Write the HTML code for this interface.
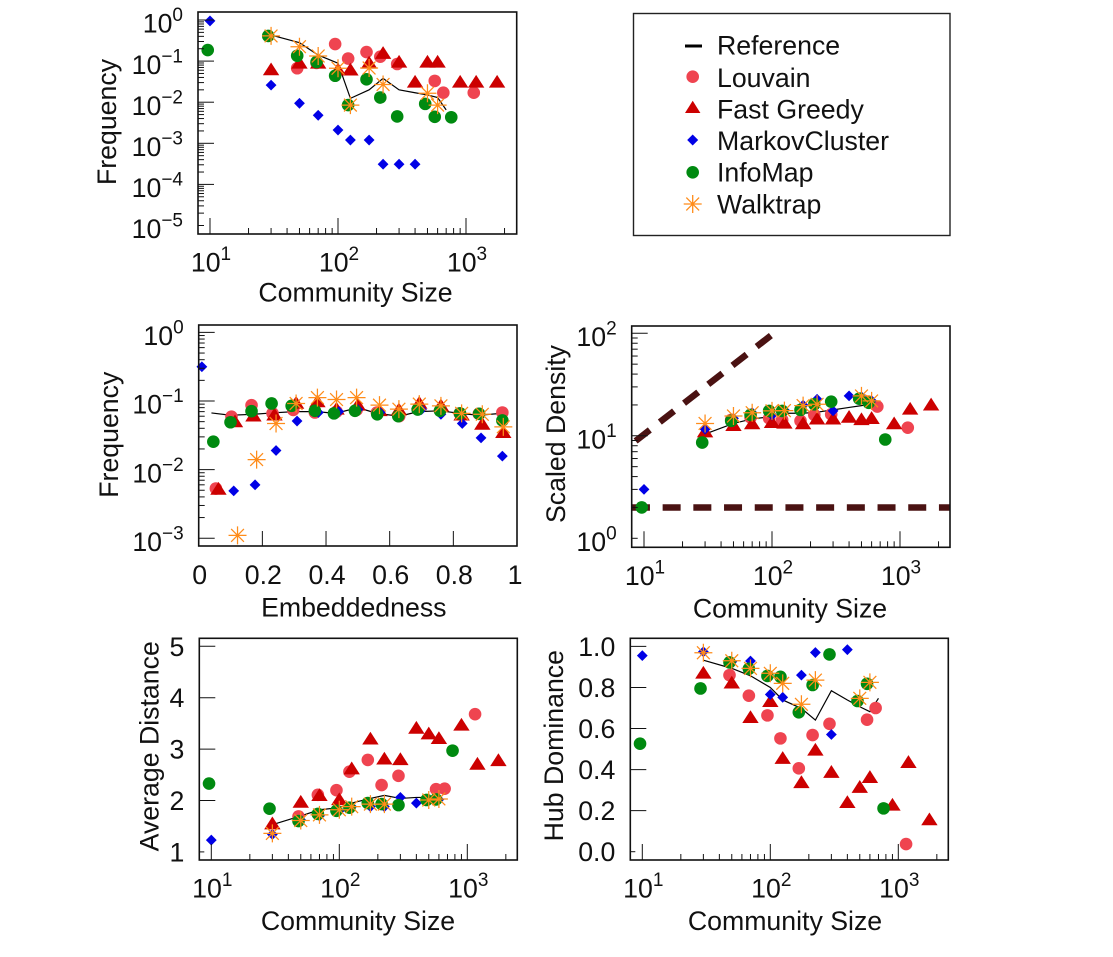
<!DOCTYPE html>
<html lang="en">
<head>
<meta charset="utf-8">
<title>Community metrics comparison</title>
<style>
html,body{margin:0;padding:0;background:#fff}
svg{display:block}
text{font-family:"Liberation Sans",Arial,sans-serif;fill:#111}
</style>
</head>
<body>
<svg id="fig" xmlns="http://www.w3.org/2000/svg" width="1113" height="957" viewBox="0 0 1113 957">
  <g>
    <rect x="633.5" y="13.5" width="316.5" height="222" fill="#fff" stroke="#222" stroke-width="1.4"/>
    <g>
      <line x1="685" x2="702" y1="46" y2="46" stroke="#000" stroke-width="3"/>
      <text x="717" y="54.5" font-size="26.7">Reference</text>
    </g>
    <g>
      <circle cx="692.7" cy="76.7" r="6.3" fill="#ef4450"/>
      <text x="717" y="87" font-size="26.7">Louvain</text>
    </g>
    <g>
      <path d="M692.7 100.8 L700.4 113 L685 113 Z" fill="#cc0000"/>
      <text x="717" y="118.5" font-size="26.7">Fast Greedy</text>
    </g>
    <g>
      <path d="M692.7 134.5 L698.2 140 L692.7 145.5 L687.2 140 Z" fill="#0000e6"/>
      <text x="717" y="150" font-size="26.7">MarkovCluster</text>
    </g>
    <g>
      <circle cx="692.7" cy="172.3" r="6.3" fill="#008a10"/>
      <text x="717" y="181.7" font-size="26.7">InfoMap</text>
    </g>
    <g>
      <path d="M683.7 204H701.7M692.7 195V213M686.3 197.6L699.1 210.4M686.3 210.4L699.1 197.6" stroke="#ff8c1a" stroke-width="1.3" fill="none"/>
      <text x="717" y="213.3" font-size="26.7">Walktrap</text>
    </g>
  </g>
</svg>
<script>
// Community-size categories per algorithm
const louvainSizes = [28,48,68,95,120,167,214,290,480,570,665,1150];
const fastGreedySizes = [30,50,70,100,125,175,225,300,400,500,600,900,1200,1750];
const markovSizes = [10,30,50,70,100,125,175,225,300,400,500,600];
const infomapSizes = [9.6,28.5,48,68,95,120,167,214,290,480,570,767];
const walktrapSizes = [30,50,70,100,125,175,225,500,600];
const referenceSizes = [30,50,70,100,125,175,225,300,400,500,600,700];

// Size distribution
const freqLouvain = [null,0.067,0.09,0.26,0.115,0.166,0.128,0.085,null,0.033,0.017,0.017];
const freqFastGreedy = [0.064,0.093,0.093,0.063,0.063,0.093,0.16,0.098,0.032,0.098,0.098,0.032,0.032,0.032];
const freqMarkov = [0.95,0.026,0.0094,0.0048,0.0021,0.0012,0.0012,0.00031,0.00031,0.00031,null,null];
const freqInfomap = [0.186,0.41,0.135,0.095,0.044,0.0085,0.036,0.013,0.0045,0.0091,0.0044,0.0043];
const freqWalktrap = [0.41,0.224,0.133,0.067,0.0085,0.068,0.027,0.0165,0.0085];
const freqReference = [0.43,0.28,0.14,0.089,0.0124,0.02,0.038,0.02,0.017,0.015,0.013,0.0065];

// Embeddedness distribution
const embedLouvainX = [0.054,0.103,0.166,0.232,0.297,0.365,0.433,0.496,0.56,0.63,0.69,0.76,0.82,0.88,0.954];
const embedLouvainY = [0.0053,0.059,0.087,0.066,0.074,0.068,0.07,0.074,0.068,0.06,0.078,0.075,0.066,0.065,0.068];
const embedFastGreedyX = [0.062,0.114,0.172,0.238,0.306,0.373,0.433,0.5,0.568,0.629,0.693,0.761,0.826,0.891,0.957];
const embedFastGreedyY = [0.0053,0.051,0.062,0.064,0.095,0.1,0.078,0.089,0.074,0.076,0.095,0.087,0.064,0.047,0.0355];
const embedMarkovX = [0.01,0.11,0.177,0.243,0.309,0.376,0.44,0.5,0.57,0.63,0.7,0.761,0.828,0.887,0.954];
const embedMarkovY = [0.316,0.0049,0.006,0.019,0.051,0.068,0.07,0.075,0.068,0.06,0.075,0.064,0.047,0.029,0.0157];
const embedInfomapX = [0.046,0.1,0.166,0.229,0.292,0.365,0.425,0.491,0.561,0.627,0.688,0.758,0.821,0.881,0.954];
const embedInfomapY = [0.0255,0.049,0.071,0.092,0.085,0.072,0.066,0.072,0.064,0.06,0.075,0.072,0.066,0.065,0.052];
const embedWalktrapX = [0.122,0.182,0.243,0.306,0.373,0.433,0.496,0.568,0.629,0.693,0.761,0.826,0.891,0.957];
const embedWalktrapY = [0.0011,0.014,0.047,0.092,0.112,0.105,0.112,0.087,0.076,0.09,0.085,0.066,0.064,0.042];
const embedReferenceX = [0.04,0.1,0.17,0.23,0.3,0.37,0.43,0.5,0.56,0.63,0.69,0.76,0.82,0.88,0.95];
const embedReferenceY = [0.067,0.062,0.064,0.067,0.07,0.07,0.066,0.08,0.066,0.06,0.07,0.072,0.066,0.062,0.066];

// Scaled density
const densLouvain = [null,14.3,15.1,14.8,14.3,14,16,16.2,null,null,19.3,12];
const densFastGreedy = [11.1,12.8,13.3,13.7,13.5,13.3,14.8,14.8,15.4,14.6,15,13.3,18.5,20.3];
const densMarkov = [3.0,11.6,14.8,16.8,15.9,17.8,19.9,22.7,17.5,24.5,24,22];
const densInfomap = [2.0,8.6,14,16,17.5,17.5,17.9,20.3,21.5,23,21,9.2];
const densWalktrap = [13.2,15.6,16.8,17.5,17.6,19.7,20.3,24.5,21.9];
const densReference = [10.4,13.2,14.6,15.4,16.6,16.6,17,17.9,18.9,19.7,20.6,null];
const boundUpperX = [8.6,100];
const boundUpperY = [8.9,97];
const boundLowerX = [8.05,2450];
const boundLowerY = [2,2];

// Average distance
const distLouvain = [null,1.69,2.11,2.2,2.56,2.79,2.3,2.48,null,2.22,2.23,3.68];
const distFastGreedy = [1.56,1.98,2.11,2.03,2.63,3.21,2.82,2.81,3.42,3.31,3.22,3.48,2.72,2.79];
const distMarkov = [1.23,1.34,1.62,1.7,1.8,1.88,1.88,1.88,2.06,1.95,2.0,2.02];
const distInfomap = [2.33,1.84,1.6,1.74,1.8,1.86,1.95,1.93,1.91,2.01,2.02,2.97];
const distWalktrap = [1.36,1.61,1.72,1.82,1.88,1.93,1.93,2.01,2.03];
const distReference = [1.53,1.7,1.82,1.86,1.95,2.04,2.1,2.04,2.06,2.06,2.1,null];

// Hub dominance
const hubLouvain = [null,0.86,0.76,0.664,0.552,0.406,0.568,0.623,null,0.643,0.7,0.037];
const hubFastGreedy = [0.873,0.825,0.657,0.735,0.458,0.34,0.498,0.39,0.243,0.317,0.365,0.23,0.438,0.159];
const hubMarkov = [0.955,0.974,0.925,0.929,0.766,0.752,0.86,0.97,0.571,0.984,null,null];
const hubInfomap = [0.526,0.795,0.922,0.891,0.856,0.852,0.679,0.812,0.961,0.734,0.818,0.211];
const hubWalktrap = [0.969,0.93,0.893,0.869,0.82,0.718,0.836,0.747,0.825];
const hubReference = [0.933,0.893,0.857,0.8,0.739,0.698,0.641,0.784,0.739,0.706,0.682,0.747];

// Tick labels
const sizeTickValues = [10,100,1000];
const sizeTickExponents = ["1","2","3"];
const freqTickValues = [1,0.1,0.01,0.001,0.0001,0.00001];
const freqTickExponents = ["0","\u22121","\u22122","\u22123","\u22124","\u22125"];
const embedFreqTickValues = [1,0.1,0.01,0.001];
const embedFreqTickExponents = ["0","\u22121","\u22122","\u22123"];
const embedTickValues = [0,0.2,0.4,0.6,0.8,1];
const embedTickLabels = ["0","0.2","0.4","0.6","0.8","1"];
const densTickValues = [100,10,1];
const densTickExponents = ["2","1","0"];
const distTickValues = [5,4,3,2,1];
const distTickLabels = ["5","4","3","2","1"];
const hubTickValues = [1,0.8,0.6,0.4,0.2,0];
const hubTickLabels = ["1.0","0.8","0.6","0.4","0.2","0.0"];

const svg = document.getElementById('fig');
const NS = 'http://www.w3.org/2000/svg';
const COL = {louvain:'#ef4450', fast:'#cc0000', markov:'#0000e6', info:'#008a10', walk:'#ff8c1a', dash:'#4a1212'};

function make(parent, tag, name, attrs) {
  const el = document.createElementNS(NS, tag);
  
  
  for (const k in attrs) el.setAttribute(k, attrs[k]);
  parent.appendChild(el);
  return el;
}
function logX(pxAtRef, refValue, pxPerDecade) {
  return v => pxAtRef + (Math.log10(v) - Math.log10(refValue)) * pxPerDecade;
}
function logY(pxAtRef, refValue, pxPerDecade) {
  return v => pxAtRef - (Math.log10(v) - Math.log10(refValue)) * pxPerDecade;
}
function linScale(pxAt0, pxPerUnit) {
  return v => pxAt0 + v * pxPerUnit;
}
function marker(g, type, name, x, y) {
  if (type === 'circle-louvain') make(g, 'circle', name, {cx:x, cy:y, r:6.3, fill:COL.louvain});
  if (type === 'circle-info') make(g, 'circle', name, {cx:x, cy:y, r:6.3, fill:COL.info});
  if (type === 'triangle') make(g, 'path', name, {d:`M${x} ${y-6.6}L${x+8.2} ${y+6.2}L${x-8.2} ${y+6.2}Z`, fill:COL.fast});
  if (type === 'diamond') make(g, 'path', name, {d:`M${x} ${y-5.4}L${x+5.4} ${y}L${x} ${y+5.4}L${x-5.4} ${y}Z`, fill:COL.markov});
  if (type === 'star') {
    const r = 9, d = 6.4;
    make(g, 'path', name, {d:`M${x-r} ${y}H${x+r}M${x} ${y-r}V${y+r}M${x-d} ${y-d}L${x+d} ${y+d}M${x-d} ${y+d}L${x+d} ${y-d}`, stroke:COL.walk, 'stroke-width':1.25, fill:'none'});
  }
}
function scatter(g, type, series, xs, ys, sx, sy) {
  xs.forEach((xv, i) => {
    if (ys[i] === null || ys[i] === undefined) return;
    marker(g, type, series + '-point', sx(xv), sy(ys[i]));
  });
}
function polyline(g, name, xs, ys, sx, sy, attrs) {
  const pts = [];
  xs.forEach((xv, i) => { if (ys[i] !== null && ys[i] !== undefined) pts.push(sx(xv).toFixed(2) + ',' + sy(ys[i]).toFixed(2)); });
  make(g, 'polyline', name, Object.assign({points:pts.join(' '), fill:'none'}, attrs));
}
function powerLabel(g, name, x, y, anchor, exp) {
  const t = make(g, 'text', name, {x:x, y:y, 'text-anchor':anchor, 'font-size':26.7});
  t.appendChild(document.createTextNode('10'));
  const s = document.createElementNS(NS, 'tspan');
  s.setAttribute('dy', '-11.5');
  s.setAttribute('font-size', '19');
  s.textContent = exp;
  t.appendChild(s);
}
function tickLine(g, name, x1, y1, x2, y2) {
  make(g, 'line', name, {x1:x1, y1:y1, x2:x2, y2:y2, stroke:'#111', 'stroke-width':1});
}
function drawXLogAxis(g, f, sx) {
  for (let d = 10; d <= 1000; d *= 10) for (let m = 1; m < 10; m++) {
    const v = d * m, px = sx(v);
    if (px >= f.r) continue;
    const major = m === 1;
    tickLine(g, major ? 'x-major-tick' : 'x-minor-tick', px, f.b, px, f.b - (major ? 16 : 6));
  }
  sizeTickValues.forEach((v, i) => powerLabel(g, 'x-tick-label', sx(v) + 1, f.b + 37.5, 'middle', sizeTickExponents[i]));
}
function drawYLogAxis(g, f, sy, values, exps, bottomShort) {
  const minPow = Math.round(Math.log10(Math.min(...values)));
  const maxPow = Math.round(Math.log10(Math.max(...values)));
  for (let p = minPow; p <= maxPow; p++) for (let m = 1; m < 10; m++) {
    const v = Math.pow(10, p) * m, py = sy(v);
    if (py <= f.t || py >= f.b) continue;
    const major = m === 1;
    const short = bottomShort && p === minPow && m === 1;
    tickLine(g, major ? 'y-major-tick' : 'y-minor-tick', f.l, py, f.l + (major && !short ? 16 : 6), py);
  }
  values.forEach((v, i) => powerLabel(g, 'y-tick-label', f.l - 15, sy(v) + 12.7, 'end', exps[i]));
}
function drawYLinAxis(g, f, sy, values, labels) {
  values.forEach((v, i) => {
    const py = sy(v), short = i === values.length - 1;
    tickLine(g, 'y-major-tick', f.l, py, f.l + (short ? 5 : 16), py);
    const t = make(g, 'text', 'y-tick-label', {x:f.l - 15, y:py + 9.5, 'text-anchor':'end', 'font-size':26.7});
    t.textContent = labels[i];
  });
}
function frame(g, f) {
  make(g, 'rect', 'plot-frame', {x:f.l, y:f.t, width:f.r - f.l, height:f.b - f.t, fill:'none', stroke:'#111', 'stroke-width':1.6});
}
function titles(g, xTitle, xc, xb, yTitle, yb, yc) {
  const tx = make(g, 'text', 'x-axis-title', {x:xc, y:xb, 'text-anchor':'middle', 'font-size':26.7});
  tx.textContent = xTitle;
  const ty = make(g, 'text', 'y-axis-title', {transform:`translate(${yb},${yc}) rotate(-90)`, 'text-anchor':'middle', 'font-size':26.7});
  ty.textContent = yTitle;
}
function sizePanel(name, sx, sy, d) {
  const g = make(svg, 'g', name, {});
  if (d.bounds) d.bounds(g);
  polyline(g, 'reference-line', referenceSizes, d.ref, sx, sy, {stroke:'#000', 'stroke-width':1.2});
  scatter(g, 'circle-louvain', 'louvain', louvainSizes, d.louvain, sx, sy);
  scatter(g, 'triangle', 'fast-greedy', fastGreedySizes, d.fast, sx, sy);
  scatter(g, 'diamond', 'markov-cluster', markovSizes, d.markov, sx, sy);
  scatter(g, 'circle-info', 'infomap', infomapSizes, d.info, sx, sy);
  scatter(g, 'star', 'walktrap', walktrapSizes, d.walk, sx, sy);
  return g;
}

/* Panel: size distribution */
(function () {
  const f = {l:198, r:516.7, t:12, b:234};
  const sx = logX(210, 10, 128), sy = logY(20, 1, 41.1);
  const g = sizePanel('size-frequency-panel', sx, sy, {ref:freqReference, louvain:freqLouvain, fast:freqFastGreedy, markov:freqMarkov, info:freqInfomap, walk:freqWalktrap});
  drawXLogAxis(g, f, sx);
  drawYLogAxis(g, f, sy, freqTickValues, freqTickExponents, true);
  frame(g, f);
  titles(g, 'Community Size', 355.5, 301.7, 'Frequency', 116, 122);
})();

/* Panel: embeddedness */
(function () {
  const f = {l:198.7, r:517, t:325, b:546};
  const sx = linScale(198.7, 318.3), sy = logY(332.4, 1, 68.6);
  const g = make(svg, 'g', 'embeddedness-panel', {});
  polyline(g, 'reference-line', embedReferenceX, embedReferenceY, sx, sy, {stroke:'#000', 'stroke-width':1.2});
  scatter(g, 'circle-louvain', 'louvain', embedLouvainX, embedLouvainY, sx, sy);
  scatter(g, 'triangle', 'fast-greedy', embedFastGreedyX, embedFastGreedyY, sx, sy);
  scatter(g, 'diamond', 'markov-cluster', embedMarkovX, embedMarkovY, sx, sy);
  scatter(g, 'circle-info', 'infomap', embedInfomapX, embedInfomapY, sx, sy);
  scatter(g, 'star', 'walktrap', embedWalktrapX, embedWalktrapY, sx, sy);
  embedTickValues.forEach((v, i) => {
    if (v > 0 && v < 1) tickLine(g, 'x-major-tick', sx(v), f.b, sx(v), f.b - 15);
    const t = make(g, 'text', 'x-tick-label', {x:sx(v) + (v === 1 ? -2 : 1), y:f.b + 38, 'text-anchor':'middle', 'font-size':26.7});
    t.textContent = embedTickLabels[i];
  });
  drawYLogAxis(g, f, sy, embedFreqTickValues, embedFreqTickExponents, false);
  frame(g, f);
  titles(g, 'Embeddedness', 353.8, 616.7, 'Frequency', 118, 434.7);
})();

/* Panel: scaled density */
(function () {
  const f = {l:631.7, r:950, t:326, b:547.3};
  const sx = logX(644, 10, 128), sy = logY(333.3, 100, 102.5);
  const g = sizePanel('scaled-density-panel', sx, sy, {ref:densReference, louvain:densLouvain, fast:densFastGreedy, markov:densMarkov, info:densInfomap, walk:densWalktrap,
    bounds: gg => {
      polyline(gg, 'upper-bound-line', boundUpperX, boundUpperY, sx, sy, {stroke:COL.dash, 'stroke-width':6.5, 'stroke-dasharray':'18 12.7'});
      polyline(gg, 'lower-bound-line', boundLowerX, boundLowerY, sx, sy, {stroke:COL.dash, 'stroke-width':6.5, 'stroke-dasharray':'18 12.7'});
    }});
  drawXLogAxis(g, f, sx);
  drawYLogAxis(g, f, sy, densTickValues, densTickExponents, true);
  frame(g, f);
  titles(g, 'Community Size', 790, 617.7, 'Scaled Density', 565, 434);
})();

/* Panel: average distance */
(function () {
  const f = {l:199.3, r:517.3, t:638.3, b:860};
  const sx = logX(211.3, 10, 128), sy = linScale(646.3 + 5 * 51.4, -51.4);
  const g = sizePanel('average-distance-panel', sx, sy, {ref:distReference, louvain:distLouvain, fast:distFastGreedy, markov:distMarkov, info:distInfomap, walk:distWalktrap});
  drawXLogAxis(g, f, sx);
  drawYLinAxis(g, f, sy, distTickValues, distTickLabels);
  frame(g, f);
  titles(g, 'Community Size', 358, 930, 'Average Distance', 158.3, 746.3);
})();

/* Panel: hub dominance */
(function () {
  const f = {l:630.3, r:948.3, t:638.3, b:860};
  const sx = logX(642.3, 10, 128), sy = linScale(851.7, -205.3);
  const g = sizePanel('hub-dominance-panel', sx, sy, {ref:hubReference, louvain:hubLouvain, fast:hubFastGreedy, markov:hubMarkov, info:hubInfomap, walk:hubWalktrap});
  drawXLogAxis(g, f, sx);
  drawYLinAxis(g, f, sy, hubTickValues, hubTickLabels);
  frame(g, f);
  titles(g, 'Community Size', 785, 930, 'Hub Dominance', 563, 745.7);
})();
</script>
</body>
</html>
